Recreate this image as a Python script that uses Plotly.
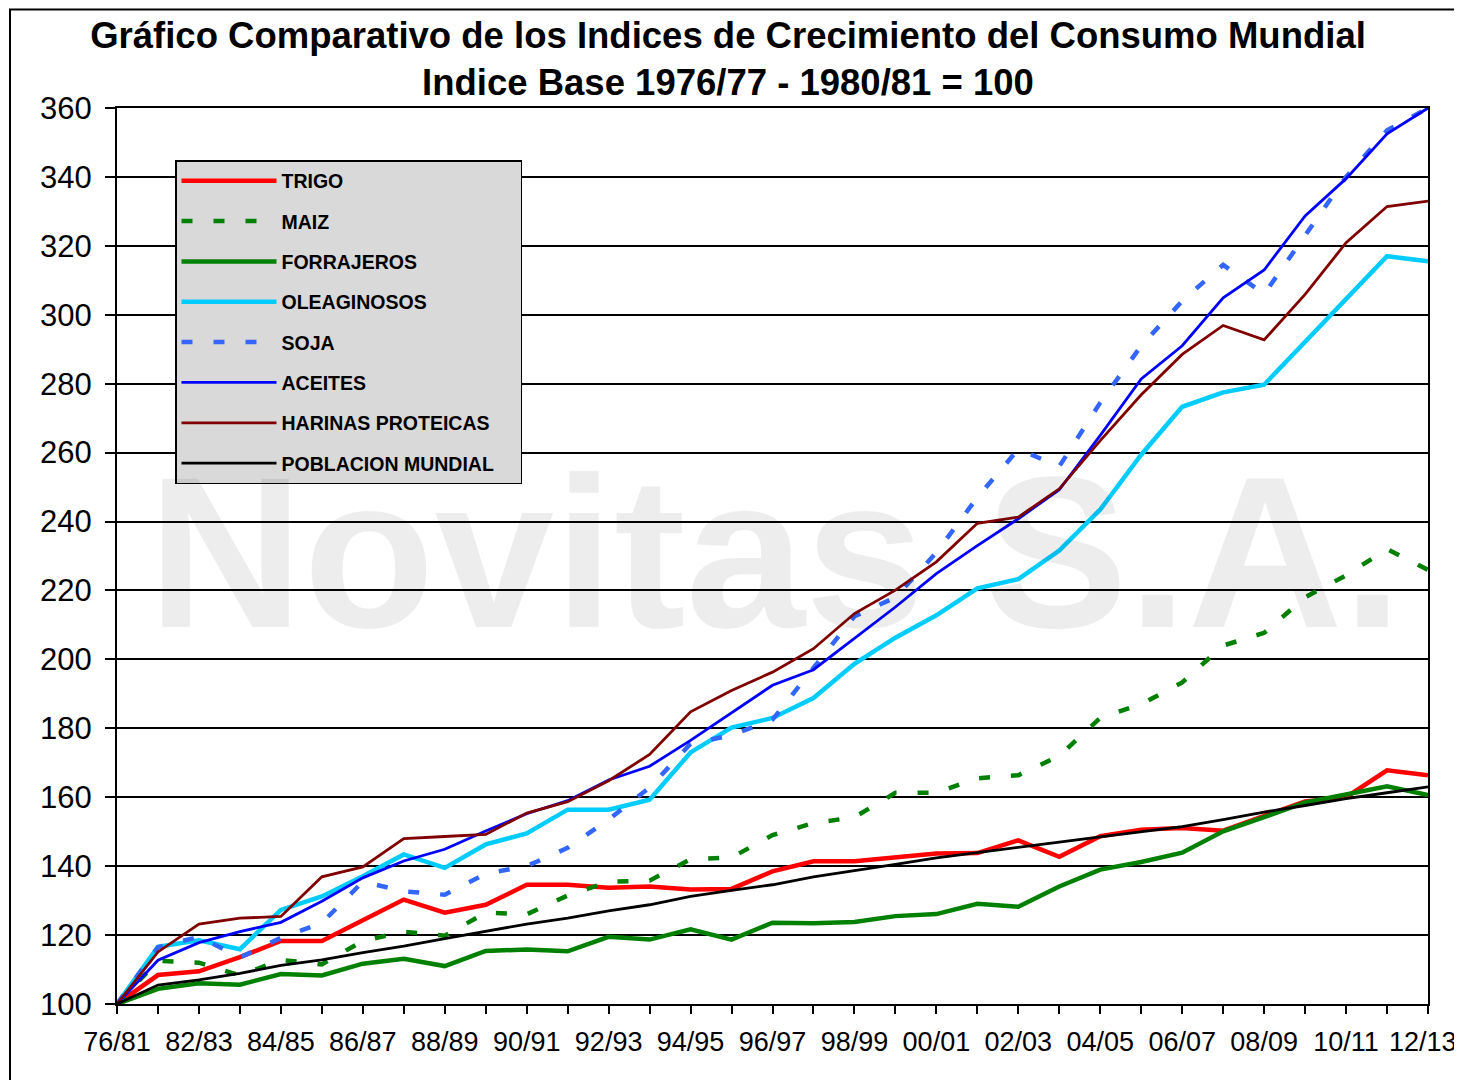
import plotly.graph_objects as go

categories = ["76/81", "81/82", "82/83", "83/84", "84/85", "85/86", "86/87", "87/88",
              "88/89", "89/90", "90/91", "91/92", "92/93", "93/94", "94/95", "95/96",
              "96/97", "97/98", "98/99", "99/00", "00/01", "01/02", "02/03", "03/04",
              "04/05", "05/06", "06/07", "07/08", "08/09", "09/10", "10/11", "11/12", "12/13*"]

trigo = [100, 108.4, 109.5, 113.6, 118.3, 118.3, 124.3, 130.3, 126.5, 128.8, 134.6,
         134.6, 133.7, 134.1, 133.2, 133.4, 138.5, 141.4, 141.4, 142.7, 143.7, 143.8,
         147.5, 142.7, 148.7, 150.6, 151.1, 150.3, 154.6, 158.8, 160.0, 167.8, 166.4]
maiz = [100, 112.5, 112, 108.3, 112.8, 111.5, 118.3, 121, 119.8, 126.5, 126, 131.5,
        135.5, 135.8, 142, 142.5, 149, 152.5, 154.2, 161.3, 161.3, 165.5, 166.4, 172,
        183, 187, 193.3, 204, 207.7, 218, 224.4, 232, 226]
forrajeros = [100, 104.4, 106, 105.6, 108.7, 108.3, 111.7, 113.1, 111, 115.4, 115.8,
              115.3, 119.5, 118.7, 121.7, 118.7, 123.6, 123.4, 123.8, 125.5, 126.1,
              129.1, 128.2, 134.1, 139, 141.2, 143.9, 150.1, 154.2, 158.5, 160.8, 163.2, 160.6]
oleaginosos = [100, 116.6, 118.5, 115.9, 127.3, 131.2, 137.1, 143.4, 139.5, 146.3, 149.5,
               156.4, 156.4, 159.3, 173, 180.2, 183, 188.8, 198.7, 206.3, 212.8, 220.6,
               223.3, 231.6, 243.5, 259.4, 273.3, 277.5, 279.7, 292, 304.7, 317, 315.5]
soja = [100, 116.5, 119.5, 113.5, 119.2, 123.5, 135.5, 132.7, 131.7, 137.8, 140, 145.3,
        153.5, 162.8, 175.5, 178, 182.5, 197.5, 212.5, 218, 231, 247, 261, 256, 274.5,
        291, 304, 314.5, 306, 323, 340, 353.5, 360]
aceites = [100, 112.7, 117.8, 121, 123.7, 129.8, 136.6, 141.5, 144.9, 150.2, 155.2, 159,
           165, 169, 176.5, 184.5, 192.5, 197, 206, 215.2, 224.9, 233, 240.8, 249.2, 265,
           281.4, 291, 304.9, 313, 328.7, 339.5, 352.5, 360]
harinas = [100, 115.1, 123.2, 124.9, 125.4, 136.9, 139.8, 148, 148.6, 149.2, 155.4, 158.7,
           164.8, 172.4, 184.8, 191, 196.3, 203.1, 213.3, 220.1, 228.3, 239.5, 241.3, 249.5,
           263.5, 276.8, 288.5, 296.9, 292.7, 305.9, 320.9, 331.4, 333]
poblacion = [100, 105.5, 107, 108.9, 111.2, 112.8, 114.9, 116.8, 119, 121, 123.2, 124.9,
             127, 128.8, 131.2, 133, 134.6, 136.9, 138.6, 140.5, 142.4, 144, 145.6, 147,
             148.5, 150.1, 151.5, 153.5, 155.7, 157.6, 159.6, 161.3, 163]

series_names = ["TRIGO", "MAIZ", "FORRAJEROS", "OLEAGINOSOS", "SOJA", "ACEITES",
                "HARINAS PROTEICAS", "POBLACION MUNDIAL"]
series_values = [trigo, maiz, forrajeros, oleaginosos, soja, aceites, harinas, poblacion]
series_colors = ["#FF0000", "#008000", "#008000", "#00CCFF", "#3366FF", "#0000FF",
                 "#800000", "#000000"]
series_widths = [4.5, 4.5, 4.5, 4.5, 4.5, 2.8, 2.8, 2.8]
series_dash = ["solid", "11px,21px", "solid", "solid", "11px,21px", "solid", "solid", "solid"]

FONT = "Liberation Sans, Arial, sans-serif"

# page body has an 8px margin: figure is 1454x1072 so it ends at the window edge
W, H = 1454, 1072
ML, MT, MR, MB = 109, 100, 34, 76
PW, PH = W - ML - MR, H - MT - MB   # plot area 1311 x 896


def px_x(page_x):
    return (page_x - 8 - ML) / PW


def px_y(page_y):
    return (H - MB - (page_y - 8)) / PH


fig = go.Figure()
for name, vals, col, w, d in zip(series_names, series_values, series_colors,
                                 series_widths, series_dash):
    # pad the legend labels on the right so the legend box is as wide as the original
    label = name + ("\u00a0" * 4 if name == "POBLACION MUNDIAL" else "")
    fig.add_trace(go.Scatter(
        x=categories, y=vals, name=label, mode="lines",
        line=dict(color=col, width=w, dash=d),
        legendgroup=name,
    ))

tick_text = [c if i % 2 == 0 else "" for i, c in enumerate(categories)]

fig.update_layout(
    width=W, height=H,
    margin=dict(l=ML, r=MR, t=MT, b=MB, pad=0),
    paper_bgcolor="white", plot_bgcolor="white",
    font=dict(family=FONT, color="black"),
    title=dict(
        text="Gráfico Comparativo de los Indices de Crecimiento del Consumo Mundial<br>"
             "Indice Base 1976/77 - 1980/81 = 100",
        x=720 / W, xref="container", xanchor="center",
        y=1 - 40 / H, yref="container", yanchor="middle",
        font=dict(family=FONT, size=36.5, weight="bold", color="black"),
    ),
    showlegend=True,
    legend=dict(
        x=px_x(175), y=px_y(160), xanchor="left", yanchor="top",
        bgcolor="#D9D9D9", bordercolor="black", borderwidth=1.5,
        font=dict(family=FONT, size=19.5, weight="bold", color="black"),
        tracegroupgap=12, itemwidth=95,
    ),
    xaxis=dict(
        type="category", range=[0, len(categories) - 1],
        tickmode="array", tickvals=categories, ticktext=tick_text,
        ticks="outside", ticklen=8, tickwidth=2, tickcolor="black",
        showline=True, linecolor="black", linewidth=2, mirror=True,
        showgrid=False, zeroline=False, automargin=False,
        tickangle=0, ticklabelstandoff=5,
        tickfont=dict(family=FONT, size=27, color="black"),
    ),
    yaxis=dict(
        range=[100, 360], tick0=100, dtick=20,
        ticks="outside", ticklen=10, tickwidth=2, tickcolor="black",
        showline=True, linecolor="black", linewidth=2, mirror=True,
        showgrid=True, gridcolor="black", gridwidth=1.5, zeroline=False,
        automargin=False, ticklabelstandoff=7,
        tickfont=dict(family=FONT, size=31, color="black"),
    ),
)

# faint watermark of the source
fig.add_annotation(
    text="Novitas S.A.", xref="paper", yref="paper",
    x=px_x(775), y=px_y(552), showarrow=False,
    font=dict(family=FONT, size=215, weight="bold", color="rgba(0,0,0,0.07)"),
)

# outer chart-area frame
fig.add_shape(type="rect", xref="paper", yref="paper",
              x0=px_x(10), x1=px_x(1490),
              y0=px_y(1110), y1=px_y(9.5),
              line=dict(color="black", width=2), layer="below")

fig.write_html("out.html")
